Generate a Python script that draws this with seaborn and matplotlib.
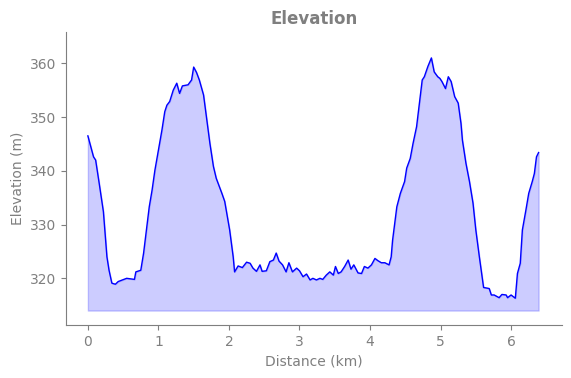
import matplotlib
matplotlib.use("Agg")
import matplotlib.pyplot as plt
import seaborn as sns
import pandas as pd

# --- data ---
distance_km = [
    0.00, 0.08, 0.11, 0.16, 0.22, 0.27, 0.30, 0.34, 0.39, 0.43, 0.55, 0.66,
    0.68, 0.75, 0.79, 0.83, 0.87, 0.91, 0.95, 1.00, 1.05, 1.09, 1.12, 1.16,
    1.21, 1.26, 1.30, 1.34, 1.42, 1.47, 1.50, 1.54, 1.58, 1.64, 1.68, 1.73,
    1.78, 1.82, 1.90, 1.94, 2.01, 2.06, 2.08, 2.13, 2.19, 2.25, 2.30, 2.34,
    2.39, 2.44, 2.47, 2.53, 2.58, 2.63, 2.67, 2.71, 2.76, 2.81, 2.85, 2.90,
    2.96, 3.00, 3.05, 3.10, 3.15, 3.19, 3.24, 3.29, 3.33, 3.38, 3.43, 3.48,
    3.51, 3.55, 3.59, 3.64, 3.69, 3.73, 3.77, 3.83, 3.88, 3.92, 3.97, 4.02,
    4.07, 4.11, 4.16, 4.21, 4.27, 4.30, 4.32, 4.38, 4.43, 4.49, 4.52, 4.57,
    4.61, 4.66, 4.70, 4.74, 4.77, 4.82, 4.87, 4.91, 4.96, 4.99, 5.02, 5.07,
    5.11, 5.15, 5.20, 5.25, 5.29, 5.31, 5.36, 5.41, 5.46, 5.50, 5.55, 5.61,
    5.69, 5.72, 5.76, 5.83, 5.87, 5.93, 5.95, 6.00, 6.06, 6.09, 6.13, 6.16,
    6.21, 6.25, 6.30, 6.33, 6.36, 6.39,
]
elevation_m = [
    346.5, 342.6, 342.0, 337.7, 332.4, 324.0, 321.5, 319.1, 318.9, 319.4, 320.0, 319.8,
    321.2, 321.5, 324.7, 329.0, 333.3, 336.4, 340.1, 343.9, 347.6, 351.0, 352.2, 352.9,
    355.0, 356.3, 354.4, 355.8, 356.0, 356.9, 359.3, 358.3, 356.9, 354.1, 350.1, 345.1,
    340.8, 338.6, 335.8, 334.3, 329.0, 324.0, 321.2, 322.3, 322.0, 323.0, 322.8, 321.9,
    321.3, 322.5, 321.3, 321.4, 323.1, 323.4, 324.7, 323.2, 322.5, 321.2, 322.9, 321.2,
    321.9, 321.4, 320.3, 320.8, 319.7, 320.0, 319.7, 320.0, 319.8, 320.6, 321.2, 320.6,
    322.2, 320.9, 321.2, 322.2, 323.4, 321.7, 322.5, 321.0, 320.9, 322.2, 321.9, 322.5,
    323.7, 323.3, 322.9, 322.9, 322.5, 324.0, 327.1, 333.3, 335.8, 338.0, 340.5, 342.3,
    345.1, 348.2, 352.6, 356.9, 357.5, 359.4, 361.0, 358.4, 357.5, 357.2, 356.6, 355.3,
    357.5, 356.6, 353.8, 352.6, 348.8, 345.7, 341.4, 338.0, 334.0, 329.0, 324.0, 318.3,
    318.1, 316.9, 316.9, 316.4, 317.0, 316.9, 316.4, 316.9, 316.3, 320.9, 322.8, 329.0,
    332.7, 335.8, 338.0, 339.5, 342.6, 343.4,
]
fill_base = 314.0

df = pd.DataFrame({"Distance": distance_km, "Elevation": elevation_m})

GREY = "#7f7f7f"
plt.rcParams['font.family'] = 'DejaVu Sans'
plt.rcParams['font.size'] = 10

fig, ax = plt.subplots(figsize=(5.71, 3.78), dpi=100)
fig.subplots_adjust(left=0.1156, right=0.984, top=0.915, bottom=0.140)

sns.lineplot(data=df, x="Distance", y="Elevation", color="blue", linewidth=1, ax=ax)
ax.fill_between(df["Distance"], df["Elevation"], fill_base, color="blue", alpha=0.2)

ax.set_ylim(311.3, 365.8)
ax.set_xlim(-0.31, 6.72)
ax.set_yticks([320, 330, 340, 350, 360])
ax.set_xticks([0, 1, 2, 3, 4, 5, 6])

ax.set_title("Elevation", color=GREY, fontweight="bold", fontsize=12)
ax.set_xlabel("Distance (km)", color=GREY)
ax.set_ylabel("Elevation (m)", color=GREY)
ax.tick_params(colors=GREY)
sns.despine(ax=ax)
for s in ["left", "bottom"]:
    ax.spines[s].set_color(GREY)

plt.savefig("out.png", dpi=100)
